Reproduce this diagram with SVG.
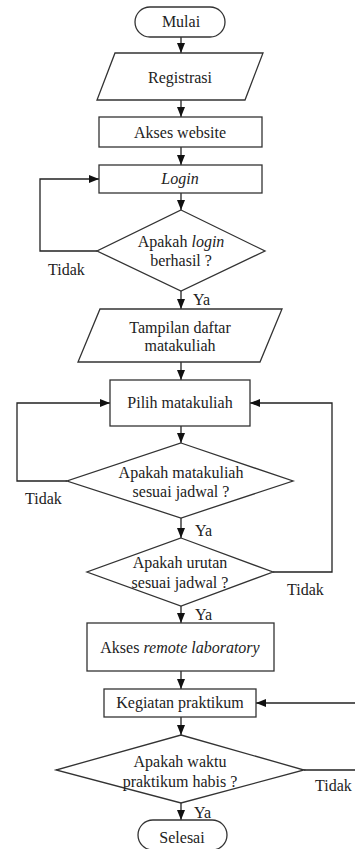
<svg xmlns="http://www.w3.org/2000/svg" width="355" height="849" viewBox="0 0 355 849" font-family="Liberation Serif, Times New Roman, serif">
<style>
.s{fill:#fff;stroke:#333;stroke-width:1.3}
.c{fill:none;stroke:#222;stroke-width:1.3}
text{font-family:'Liberation Serif','Times New Roman',serif;font-size:16px;fill:#222}
.m{text-anchor:middle}
.i{font-style:italic}
</style>
<defs>
<marker id="a" markerUnits="userSpaceOnUse" markerWidth="10" markerHeight="8" viewBox="0 0 10 8" refX="10" refY="4" orient="auto">
<path d="M0,0 L10,4 L0,8 z" fill="#111"/>
</marker>
</defs>
<rect width="355" height="849" fill="#fff"/>
<g id="connectors">
<path class="c" d="M181,37 V53" marker-end="url(#a)"/>
<path class="c" d="M181,100 V117" marker-end="url(#a)"/>
<path class="c" d="M181,147 V165" marker-end="url(#a)"/>
<path class="c" d="M181,193 V210" marker-end="url(#a)"/>
<path class="c" d="M97,251 H40 V179 H99" marker-end="url(#a)"/>
<path class="c" d="M181,291 V309" marker-end="url(#a)"/>
<path class="c" d="M181,362 V380" marker-end="url(#a)"/>
<path class="c" d="M181,426 V443" marker-end="url(#a)"/>
<path class="c" d="M67,481 H17 V403 H110" marker-end="url(#a)"/>
<path class="c" d="M181,518 V538" marker-end="url(#a)"/>
<path class="c" d="M273,572 H332 V403 H250" marker-end="url(#a)"/>
<path class="c" d="M181,606 V623" marker-end="url(#a)"/>
<path class="c" d="M181,671 V689" marker-end="url(#a)"/>
<path class="c" d="M355,703 H256" marker-end="url(#a)"/>
<path class="c" d="M181,717 V735" marker-end="url(#a)"/>
<path class="c" d="M304,770 H355"/>
<path class="c" d="M181,803 V820" marker-end="url(#a)"/>
<text x="48" y="275">Tidak</text>
<text x="193" y="305">Ya</text>
<text x="25" y="504">Tidak</text>
<text x="195" y="536">Ya</text>
<text x="287" y="595">Tidak</text>
<text x="195" y="620">Ya</text>
<text x="315" y="791">Tidak</text>
<text x="194" y="818">Ya</text>
</g>
<g id="mulai">
<rect class="s" x="135" y="7" width="90" height="30" rx="15"/>
<text class="m" x="181" y="27">Mulai</text>
</g>
<g id="registrasi">
<polygon class="s" points="115,53 263,53 245,100 97,100"/>
<text class="m" x="180" y="83">Registrasi</text>
</g>
<g id="akses-website">
<rect class="s" x="99" y="117" width="163" height="30"/>
<text class="m" x="180" y="138">Akses website</text>
</g>
<g id="login">
<rect class="s" x="99" y="165" width="163" height="28"/>
<text class="m i" x="180" y="184">Login</text>
</g>
<g id="cek-login">
<polygon class="s" points="181,210 265,251 181,291 97,251"/>
<text class="m" x="181" y="247">Apakah <tspan class="i">login</tspan></text>
<text class="m" x="181" y="266">berhasil ?</text>
</g>
<g id="tampilan">
<polygon class="s" points="100,309 282,309 260,362 78,362"/>
<text class="m" x="180" y="333">Tampilan daftar</text>
<text class="m" x="180" y="351">matakuliah</text>
</g>
<g id="pilih">
<rect class="s" x="110" y="380" width="140" height="46"/>
<text class="m" x="180" y="408">Pilih matakuliah</text>
</g>
<g id="cek-matakuliah">
<polygon class="s" points="181,443 293,481 181,518 67,481"/>
<text class="m" x="181" y="478">Apakah matakuliah</text>
<text class="m" x="181" y="497">sesuai jadwal ?</text>
</g>
<g id="cek-urutan">
<polygon class="s" points="181,538 273,572 181,606 87,572"/>
<text class="m" x="180" y="568">Apakah urutan</text>
<text class="m" x="180" y="588">sesuai jadwal ?</text>
</g>
<g id="akses-remote">
<rect class="s" x="87" y="623" width="187" height="48"/>
<text class="m" x="180" y="653">Akses <tspan class="i">remote laboratory</tspan></text>
</g>
<g id="kegiatan">
<rect class="s" x="104" y="689" width="152" height="28"/>
<text class="m" x="180" y="708">Kegiatan praktikum</text>
</g>
<g id="cek-waktu">
<polygon class="s" points="181,735 304,770 181,803 56,770"/>
<text class="m" x="180" y="767">Apakah waktu</text>
<text class="m" x="180" y="787">praktikum habis ?</text>
</g>
<g id="selesai">
<rect class="s" x="138" y="820" width="89" height="30" rx="15"/>
<text class="m" x="182" y="843">Selesai</text>
</g>
</svg>
